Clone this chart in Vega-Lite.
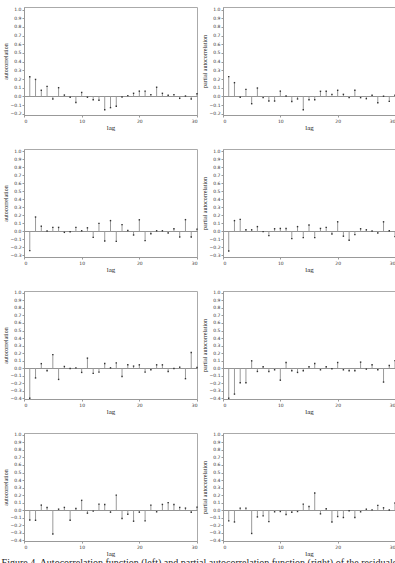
{
  "$schema": "https://vega.github.io/schema/vega-lite/v6.json",
  "padding": {"left": 1, "top": 6, "right": 0, "bottom": 0},
  "background": "white",
  "datasets": {
    "acf1": [{"lag":1,"r":0.226},{"lag":2,"r":0.195},{"lag":3,"r":0.07},{"lag":4,"r":0.115},{"lag":5,"r":-0.03},{"lag":6,"r":0.1},{"lag":7,"r":0.015},{"lag":8,"r":-0.01},{"lag":9,"r":-0.07},{"lag":10,"r":0.045},{"lag":11,"r":-0.01},{"lag":12,"r":-0.04},{"lag":13,"r":-0.045},{"lag":14,"r":-0.155},{"lag":15,"r":-0.13},{"lag":16,"r":-0.115},{"lag":17,"r":-0.008},{"lag":18,"r":0.008},{"lag":19,"r":0.035},{"lag":20,"r":0.06},{"lag":21,"r":0.06},{"lag":22,"r":0.02},{"lag":23,"r":0.105},{"lag":24,"r":0.035},{"lag":25,"r":0.012},{"lag":26,"r":0.02},{"lag":27,"r":-0.023},{"lag":28,"r":0.004},{"lag":29,"r":-0.03},{"lag":30,"r":0.03}],
    "pacf1": [{"lag":1,"r":0.227},{"lag":2,"r":0.158},{"lag":3,"r":-0.01},{"lag":4,"r":0.08},{"lag":5,"r":-0.085},{"lag":6,"r":0.096},{"lag":7,"r":-0.015},{"lag":8,"r":-0.054},{"lag":9,"r":-0.054},{"lag":10,"r":0.06},{"lag":11,"r":0.004},{"lag":12,"r":-0.06},{"lag":13,"r":-0.03},{"lag":14,"r":-0.154},{"lag":15,"r":-0.04},{"lag":16,"r":-0.04},{"lag":17,"r":0.058},{"lag":18,"r":0.058},{"lag":19,"r":0.023},{"lag":20,"r":0.07},{"lag":21,"r":0.023},{"lag":22,"r":-0.015},{"lag":23,"r":0.07},{"lag":24,"r":-0.015},{"lag":25,"r":-0.027},{"lag":26,"r":0.012},{"lag":27,"r":-0.073},{"lag":28,"r":0.002},{"lag":29,"r":-0.058},{"lag":30,"r":0.012}],
    "acf2": [{"lag":1,"r":-0.24},{"lag":2,"r":0.18},{"lag":3,"r":0.065},{"lag":4,"r":0.004},{"lag":5,"r":0.05},{"lag":6,"r":0.05},{"lag":7,"r":-0.012},{"lag":8,"r":-0.005},{"lag":9,"r":0.05},{"lag":10,"r":0.008},{"lag":11,"r":0.045},{"lag":12,"r":-0.075},{"lag":13,"r":0.1},{"lag":14,"r":-0.12},{"lag":15,"r":0.135},{"lag":16,"r":-0.125},{"lag":17,"r":0.085},{"lag":18,"r":0.012},{"lag":19,"r":-0.045},{"lag":20,"r":0.145},{"lag":21,"r":-0.115},{"lag":22,"r":-0.03},{"lag":23,"r":0.008},{"lag":24,"r":0.008},{"lag":25,"r":-0.02},{"lag":26,"r":0.033},{"lag":27,"r":-0.07},{"lag":28,"r":0.147},{"lag":29,"r":-0.07},{"lag":30,"r":0.028}],
    "pacf2": [{"lag":1,"r":-0.245},{"lag":2,"r":0.135},{"lag":3,"r":0.15},{"lag":4,"r":0.02},{"lag":5,"r":0.02},{"lag":6,"r":0.06},{"lag":7,"r":-0.003},{"lag":8,"r":-0.053},{"lag":9,"r":0.033},{"lag":10,"r":0.037},{"lag":11,"r":0.037},{"lag":12,"r":-0.09},{"lag":13,"r":0.06},{"lag":14,"r":-0.078},{"lag":15,"r":0.08},{"lag":16,"r":-0.078},{"lag":17,"r":0.037},{"lag":18,"r":0.05},{"lag":19,"r":-0.033},{"lag":20,"r":0.12},{"lag":21,"r":-0.06},{"lag":22,"r":-0.11},{"lag":23,"r":-0.04},{"lag":24,"r":0.033},{"lag":25,"r":0.02},{"lag":26,"r":0.004},{"lag":27,"r":-0.02},{"lag":28,"r":0.12},{"lag":29,"r":0.008},{"lag":30,"r":-0.065}],
    "acf3": [{"lag":1,"r":-0.4},{"lag":2,"r":-0.13},{"lag":3,"r":0.06},{"lag":4,"r":-0.035},{"lag":5,"r":0.18},{"lag":6,"r":-0.15},{"lag":7,"r":0.022},{"lag":8,"r":-0.004},{"lag":9,"r":0.004},{"lag":10,"r":-0.057},{"lag":11,"r":0.133},{"lag":12,"r":-0.07},{"lag":13,"r":-0.053},{"lag":14,"r":0.062},{"lag":15,"r":0.004},{"lag":16,"r":0.07},{"lag":17,"r":-0.11},{"lag":18,"r":0.044},{"lag":19,"r":0.027},{"lag":20,"r":0.044},{"lag":21,"r":-0.053},{"lag":22,"r":-0.022},{"lag":23,"r":0.044},{"lag":24,"r":0.044},{"lag":25,"r":-0.044},{"lag":26,"r":-0.004},{"lag":27,"r":0.013},{"lag":28,"r":-0.14},{"lag":29,"r":0.208},{"lag":30,"r":0.008}],
    "pacf3": [{"lag":1,"r":-0.4},{"lag":2,"r":-0.345},{"lag":3,"r":-0.195},{"lag":4,"r":-0.195},{"lag":5,"r":0.097},{"lag":6,"r":-0.044},{"lag":7,"r":0.018},{"lag":8,"r":-0.044},{"lag":9,"r":-0.022},{"lag":10,"r":-0.16},{"lag":11,"r":0.075},{"lag":12,"r":-0.035},{"lag":13,"r":-0.057},{"lag":14,"r":-0.035},{"lag":15,"r":0.018},{"lag":16,"r":0.062},{"lag":17,"r":-0.022},{"lag":18,"r":0.018},{"lag":19,"r":-0.009},{"lag":20,"r":0.075},{"lag":21,"r":-0.022},{"lag":22,"r":-0.035},{"lag":23,"r":-0.035},{"lag":24,"r":0.08},{"lag":25,"r":-0.013},{"lag":26,"r":0.044},{"lag":27,"r":-0.022},{"lag":28,"r":-0.185},{"lag":29,"r":0.035},{"lag":30,"r":0.1}],
    "acf4": [{"lag":1,"r":-0.13},{"lag":2,"r":-0.135},{"lag":3,"r":0.067},{"lag":4,"r":0.036},{"lag":5,"r":-0.317},{"lag":6,"r":0.013},{"lag":7,"r":0.036},{"lag":8,"r":-0.135},{"lag":9,"r":0.022},{"lag":10,"r":0.13},{"lag":11,"r":-0.04},{"lag":12,"r":-0.013},{"lag":13,"r":0.08},{"lag":14,"r":0.076},{"lag":15,"r":-0.027},{"lag":16,"r":0.2},{"lag":17,"r":-0.11},{"lag":18,"r":-0.054},{"lag":19,"r":-0.147},{"lag":20,"r":-0.027},{"lag":21,"r":-0.143},{"lag":22,"r":0.067},{"lag":23,"r":-0.022},{"lag":24,"r":0.076},{"lag":25,"r":0.1},{"lag":26,"r":0.076},{"lag":27,"r":0.036},{"lag":28,"r":0.027},{"lag":29,"r":-0.027},{"lag":30,"r":0.04}],
    "pacf4": [{"lag":1,"r":-0.143},{"lag":2,"r":-0.157},{"lag":3,"r":0.027},{"lag":4,"r":0.027},{"lag":5,"r":-0.31},{"lag":6,"r":-0.09},{"lag":7,"r":-0.076},{"lag":8,"r":-0.152},{"lag":9,"r":-0.022},{"lag":10,"r":-0.018},{"lag":11,"r":-0.058},{"lag":12,"r":-0.027},{"lag":13,"r":-0.018},{"lag":14,"r":0.08},{"lag":15,"r":0.049},{"lag":16,"r":0.228},{"lag":17,"r":-0.049},{"lag":18,"r":0.018},{"lag":19,"r":-0.157},{"lag":20,"r":-0.085},{"lag":21,"r":-0.098},{"lag":22,"r":-0.009},{"lag":23,"r":-0.098},{"lag":24,"r":-0.022},{"lag":25,"r":0.013},{"lag":26,"r":0.004},{"lag":27,"r":0.063},{"lag":28,"r":0.031},{"lag":29,"r":0.002},{"lag":30,"r":0.094}]
  },
  "config": {
    "view": {"stroke": "#aaaaaa", "strokeWidth": 1},
    "axis": {"grid": false, "labelFont": "DejaVu Sans", "labelFontSize": 4.5, "labelColor": "#333", "labelOverlap": false, "domainColor": "#999", "tickColor": "#999", "tickSize": 2, "labelPadding": 1, "titleFont": "Liberation Serif", "titleFontWeight": "normal", "titleColor": "#222"},
    "axisX": {"titleFontSize": 7, "titlePadding": 1, "labelPadding": 1},
    "axisY": {"format": ".1f", "titleFontSize": 6, "titlePadding": 2, "labelFlush": false}
  },
  "title": {"text": "Figure 4. Autocorrelation function (left) and partial autocorrelation function (right) of the residuals", "orient": "bottom", "anchor": "start", "font": "Liberation Serif", "fontSize": 10, "fontWeight": "normal", "color": "#222", "offset": 1},
  "bounds": "flush",
  "columns": 2,
  "spacing": {"row": 34, "column": 26},
  "concat": [
      {"width": 173, "height": 108, "data": {"name": "acf1"},
       "encoding": {"x": {"field": "lag", "type": "quantitative", "scale": {"domain": [0, 30], "nice": false}, "axis": {"values": [0, 10, 20, 30]}, "title": "lag"}, "y": {"field": "r", "type": "quantitative", "scale": {"domain": [-0.215, 1.03], "nice": false, "zero": false}, "axis": {"labelOverlap": false, "grid": true, "gridColor": "#777", "gridWidth": 0.8, "gridOpacity": {"condition": {"test": "datum.value == 0", "value": 1}, "value": 0}, "values": [-0.2,-0.1,0,0.1,0.2,0.3,0.4,0.5,0.6,0.7,0.8,0.9,1.0]}, "title": "autocorrelation"}},
       "layer": [
        {"mark": {"type": "rule", "color": "#9a9a9a", "strokeWidth": 1}, "encoding": {"y2": {"datum": 0}}},
        {"mark": {"type": "point", "shape": "square", "filled": true, "size": 2, "color": "#333", "opacity": 1}}
      ]},
      {"width": 172, "height": 108, "data": {"name": "pacf1"},
       "encoding": {"x": {"field": "lag", "type": "quantitative", "scale": {"domain": [0, 30], "nice": false}, "axis": {"values": [0, 10, 20, 30]}, "title": "lag"}, "y": {"field": "r", "type": "quantitative", "scale": {"domain": [-0.215, 1.03], "nice": false, "zero": false}, "axis": {"labelOverlap": false, "grid": true, "gridColor": "#777", "gridWidth": 0.8, "gridOpacity": {"condition": {"test": "datum.value == 0", "value": 1}, "value": 0}, "values": [-0.2,-0.1,0,0.1,0.2,0.3,0.4,0.5,0.6,0.7,0.8,0.9,1.0]}, "title": "partial autocorrelation"}},
       "layer": [
        {"mark": {"type": "rule", "color": "#9a9a9a", "strokeWidth": 1}, "encoding": {"y2": {"datum": 0}}},
        {"mark": {"type": "point", "shape": "square", "filled": true, "size": 2, "color": "#333", "opacity": 1}}
      ]},
      {"width": 173, "height": 108, "data": {"name": "acf2"},
       "encoding": {"x": {"field": "lag", "type": "quantitative", "scale": {"domain": [0, 30], "nice": false}, "axis": {"values": [0, 10, 20, 30]}, "title": "lag"}, "y": {"field": "r", "type": "quantitative", "scale": {"domain": [-0.32, 1.03], "nice": false, "zero": false}, "axis": {"labelOverlap": false, "grid": true, "gridColor": "#777", "gridWidth": 0.8, "gridOpacity": {"condition": {"test": "datum.value == 0", "value": 1}, "value": 0}, "values": [-0.3,-0.2,-0.1,0,0.1,0.2,0.3,0.4,0.5,0.6,0.7,0.8,0.9,1.0]}, "title": "autocorrelation"}},
       "layer": [
        {"mark": {"type": "rule", "color": "#9a9a9a", "strokeWidth": 1}, "encoding": {"y2": {"datum": 0}}},
        {"mark": {"type": "point", "shape": "square", "filled": true, "size": 2, "color": "#333", "opacity": 1}}
      ]},
      {"width": 172, "height": 108, "data": {"name": "pacf2"},
       "encoding": {"x": {"field": "lag", "type": "quantitative", "scale": {"domain": [0, 30], "nice": false}, "axis": {"values": [0, 10, 20, 30]}, "title": "lag"}, "y": {"field": "r", "type": "quantitative", "scale": {"domain": [-0.32, 1.03], "nice": false, "zero": false}, "axis": {"labelOverlap": false, "grid": true, "gridColor": "#777", "gridWidth": 0.8, "gridOpacity": {"condition": {"test": "datum.value == 0", "value": 1}, "value": 0}, "values": [-0.3,-0.2,-0.1,0,0.1,0.2,0.3,0.4,0.5,0.6,0.7,0.8,0.9,1.0]}, "title": "partial autocorrelation"}},
       "layer": [
        {"mark": {"type": "rule", "color": "#9a9a9a", "strokeWidth": 1}, "encoding": {"y2": {"datum": 0}}},
        {"mark": {"type": "point", "shape": "square", "filled": true, "size": 2, "color": "#333", "opacity": 1}}
      ]},
      {"width": 173, "height": 108, "data": {"name": "acf3"},
       "encoding": {"x": {"field": "lag", "type": "quantitative", "scale": {"domain": [0, 30], "nice": false}, "axis": {"values": [0, 10, 20, 30]}, "title": "lag"}, "y": {"field": "r", "type": "quantitative", "scale": {"domain": [-0.41, 1.025], "nice": false, "zero": false}, "axis": {"labelOverlap": false, "grid": true, "gridColor": "#777", "gridWidth": 0.8, "gridOpacity": {"condition": {"test": "datum.value == 0", "value": 1}, "value": 0}, "values": [-0.4,-0.3,-0.2,-0.1,0,0.1,0.2,0.3,0.4,0.5,0.6,0.7,0.8,0.9,1.0]}, "title": "autocorrelation"}},
       "layer": [
        {"mark": {"type": "rule", "color": "#9a9a9a", "strokeWidth": 1}, "encoding": {"y2": {"datum": 0}}},
        {"mark": {"type": "point", "shape": "square", "filled": true, "size": 2, "color": "#333", "opacity": 1}}
      ]},
      {"width": 172, "height": 108, "data": {"name": "pacf3"},
       "encoding": {"x": {"field": "lag", "type": "quantitative", "scale": {"domain": [0, 30], "nice": false}, "axis": {"values": [0, 10, 20, 30]}, "title": "lag"}, "y": {"field": "r", "type": "quantitative", "scale": {"domain": [-0.41, 1.025], "nice": false, "zero": false}, "axis": {"labelOverlap": false, "grid": true, "gridColor": "#777", "gridWidth": 0.8, "gridOpacity": {"condition": {"test": "datum.value == 0", "value": 1}, "value": 0}, "values": [-0.4,-0.3,-0.2,-0.1,0,0.1,0.2,0.3,0.4,0.5,0.6,0.7,0.8,0.9,1.0]}, "title": "partial autocorrelation"}},
       "layer": [
        {"mark": {"type": "rule", "color": "#9a9a9a", "strokeWidth": 1}, "encoding": {"y2": {"datum": 0}}},
        {"mark": {"type": "point", "shape": "square", "filled": true, "size": 2, "color": "#333", "opacity": 1}}
      ]},
      {"width": 173, "height": 108, "data": {"name": "acf4"},
       "encoding": {"x": {"field": "lag", "type": "quantitative", "scale": {"domain": [0, 30], "nice": false}, "axis": {"values": [0, 10, 20, 30]}, "title": "lag"}, "y": {"field": "r", "type": "quantitative", "scale": {"domain": [-0.41, 1.025], "nice": false, "zero": false}, "axis": {"labelOverlap": false, "grid": true, "gridColor": "#777", "gridWidth": 0.8, "gridOpacity": {"condition": {"test": "datum.value == 0", "value": 1}, "value": 0}, "values": [-0.4,-0.3,-0.2,-0.1,0,0.1,0.2,0.3,0.4,0.5,0.6,0.7,0.8,0.9,1.0]}, "title": "autocorrelation"}},
       "layer": [
        {"mark": {"type": "rule", "color": "#9a9a9a", "strokeWidth": 1}, "encoding": {"y2": {"datum": 0}}},
        {"mark": {"type": "point", "shape": "square", "filled": true, "size": 2, "color": "#333", "opacity": 1}}
      ]},
      {"width": 172, "height": 108, "data": {"name": "pacf4"},
       "encoding": {"x": {"field": "lag", "type": "quantitative", "scale": {"domain": [0, 30], "nice": false}, "axis": {"values": [0, 10, 20, 30]}, "title": "lag"}, "y": {"field": "r", "type": "quantitative", "scale": {"domain": [-0.41, 1.025], "nice": false, "zero": false}, "axis": {"labelOverlap": false, "grid": true, "gridColor": "#777", "gridWidth": 0.8, "gridOpacity": {"condition": {"test": "datum.value == 0", "value": 1}, "value": 0}, "values": [-0.4,-0.3,-0.2,-0.1,0,0.1,0.2,0.3,0.4,0.5,0.6,0.7,0.8,0.9,1.0]}, "title": "partial autocorrelation"}},
       "layer": [
        {"mark": {"type": "rule", "color": "#9a9a9a", "strokeWidth": 1}, "encoding": {"y2": {"datum": 0}}},
        {"mark": {"type": "point", "shape": "square", "filled": true, "size": 2, "color": "#333", "opacity": 1}}
      ]}
  ]
}
